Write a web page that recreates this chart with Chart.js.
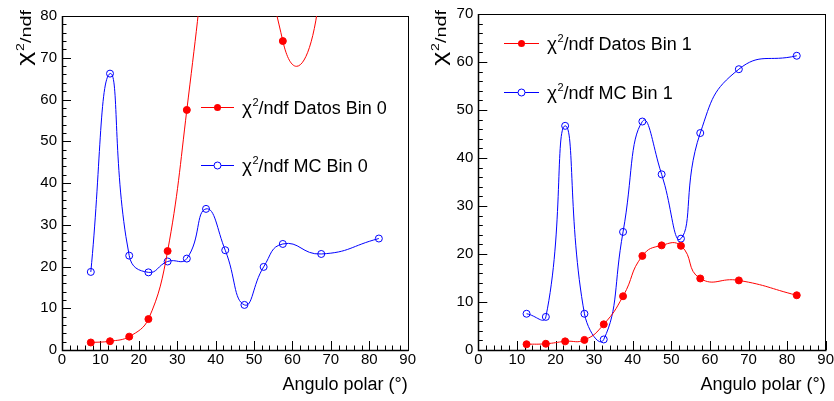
<!DOCTYPE html>
<html>
<head>
<meta charset="utf-8">
<script src="https://cdn.jsdelivr.net/npm/chart.js@4.4.0/dist/chart.umd.min.js"></script>
<style>
	html, body { margin: 0; padding: 0; background: #fff; overflow: hidden; width: 834px; height: 401px; }
	canvas { position: absolute; top: 0; }
</style>
</head>
<body>
<canvas id="chart__bin0" width="417" height="401" style="left:0"></canvas>
<canvas id="chart__bin1" width="420" height="401" style="left:417px"></canvas>
<script>
// Angles (bin centres, degrees) and chi2/ndf values
// (Datos Bin 0 from 37.5 to 52.5 and at 67.5, 82.5 runs off the top of the frame: estimated)
const anglesBin0 = [7.5, 12.5, 17.5, 22.5, 27.5, 32.5, 37.5, 42.5, 47.5, 52.5, 57.5, 67.5, 82.5];
const datosBin0 = [1.8, 2.1, 3.2, 7.4, 23.7, 57.5, 100, 170, 300, 150, 74, 90, 400];
const mcBin0 = [18.7, 66.2, 22.6, 18.6, 21.2, 21.9, 33.8, 23.9, 10.8, 19.9, 25.4, 23.0, 26.7];

const anglesBin1 = [12.5, 17.5, 22.5, 27.5, 32.5, 37.5, 42.5, 47.5, 52.5, 57.5, 67.5, 82.5];
const datosBin1 = [1.2, 1.3, 1.8, 2.1, 5.35, 11.2, 19.6, 21.8, 21.7, 14.9, 14.5, 11.4];
const mcBin1 = [7.55, 6.9, 46.7, 7.55, 2.2, 24.6, 47.6, 36.6, 23.2, 45.2, 58.5, 61.3];

const xTicks = [0, 10, 20, 30, 40, 50, 60, 70, 80, 90];

const FONT = "'Liberation Sans', Arial, Helvetica, sans-serif";
const RED = "#ff0000";
const BLUE = "#0000ff";

document.addEventListener("DOMContentLoaded", () => {
	// the Datos Bin 0 curve is drawn in two pieces that overlap off the top of
	// the frame, so the right-hand piece can be smoothed harder
	initChart("chart__bin0", {
		angles: anglesBin0, datos: datosBin0, mc: mcBin0, yMax: 80,
		datosPieces: [
			{ from: 0, to: 9, tension: 0.4 },
			{ from: 7, to: 13, tension: 1.1 },
		],
		top: 16, right: 8.7, yWidth: 62,
		titleTop: 10, titleX: 30.5,
		legend: { x1: 201, x2: 234, text: 242, yDatos: 107, yMc: 165, bin: "0" },
	});
	initChart("chart__bin1", {
		angles: anglesBin1, datos: datosBin1, mc: mcBin1, yMax: 70,
		datosPieces: [{ from: 0, to: 12, tension: 0.5 }],
		top: 10, right: 11.3, yWidth: 61.3,
		titleTop: 10, titleX: 28.5,
		legend: { x1: 87, x2: 122, text: 130, yDatos: 43, yMc: 92, bin: "1" },
	});
});

const toPoints = (xs, ys, from = 0, to = xs.length) =>
	xs.slice(from, to).map((x, i) => ({ x, y: ys[from + i] }));

// chi with a superscript 2, then the rest of the text
const drawChiText = (ctx, x, y, rest, sizes) => {
	ctx.textAlign = "left";
	ctx.textBaseline = "alphabetic";
	ctx.font = `${sizes.chi}px ${FONT}`;
	ctx.fillText("\u03C7", x, y);
	let cx = x + ctx.measureText("\u03C7").width + 0.5;
	ctx.font = `${sizes.sup}px ${FONT}`;
	ctx.fillText("2", cx, y - sizes.raise);
	cx += ctx.measureText("2").width;
	ctx.font = `${sizes.text}px ${FONT}`;
	ctx.fillText(rest, cx, y);
};

const measureChiText = (ctx, rest, sizes) => {
	ctx.font = `${sizes.chi}px ${FONT}`;
	let w = ctx.measureText("\u03C7").width + 0.5;
	ctx.font = `${sizes.sup}px ${FONT}`;
	w += ctx.measureText("2").width;
	ctx.font = `${sizes.text}px ${FONT}`;
	return w + ctx.measureText(rest).width;
};

// ROOT-like frame with ticks pointing inside
const rootAxesPlugin = {
	id: "rootAxes",
	beforeDatasetsDraw: (chart) => {
		const { ctx, chartArea, scales } = chart;
		const { left, right, top, bottom } = chartArea;
		ctx.save();
		ctx.strokeStyle = "#000";
		ctx.lineWidth = 1;
		ctx.beginPath();
		for (let v = scales.x.min; v <= scales.x.max; v += 2) {
			const px = Math.round(scales.x.getPixelForValue(v)) + 0.5;
			const len = v % 10 === 0 ? 9 : 4.5;
			ctx.moveTo(px, bottom);
			ctx.lineTo(px, bottom - len);
		}
		for (let v = scales.y.min; v <= scales.y.max; v += 2) {
			const py = Math.round(scales.y.getPixelForValue(v)) + 0.5;
			const len = v % 10 === 0 ? 9 : 4.5;
			ctx.moveTo(left, py);
			ctx.lineTo(left + len, py);
		}
		ctx.stroke();
		ctx.strokeRect(Math.round(left) + 0.5, Math.round(top) + 0.5, Math.round(right - left), Math.round(bottom - top));
		ctx.lineWidth = 1.5;
		ctx.beginPath();
		ctx.moveTo(Math.round(left) + 0.5, Math.round(top));
		ctx.lineTo(Math.round(left) + 0.5, Math.round(bottom) + 0.5);
		ctx.lineTo(Math.round(right) + 0.5, Math.round(bottom) + 0.5);
		ctx.stroke();
		ctx.restore();
	},
};

const legendSizes = { chi: 19, sup: 11, raise: 7.5, text: 18 };
const titleSizes = { chi: 21, sup: 11, raise: 6.5, text: 15.5 };
const titleStretch = 1.28;

// Legend and y title drawn at fixed spots like the original
const rootLegendPlugin = {
	id: "rootLegend",
	afterDraw: (chart, args, opts) => {
		const { ctx } = chart;
		const lg = opts.legend;
		ctx.save();
		const rows = [
			{ y: lg.yDatos, color: RED, filled: true, text: `/ndf Datos Bin ${lg.bin}` },
			{ y: lg.yMc, color: BLUE, filled: false, text: `/ndf MC Bin ${lg.bin}` },
		];
		rows.forEach((row) => {
			ctx.strokeStyle = row.color;
			ctx.fillStyle = row.color;
			ctx.lineWidth = 1;
			ctx.beginPath();
			ctx.moveTo(lg.x1, row.y + 0.5);
			ctx.lineTo(lg.x2, row.y + 0.5);
			ctx.stroke();
			const mx = (lg.x1 + lg.x2) / 2;
			ctx.beginPath();
			ctx.arc(mx, row.y + 0.5, 3.5, 0, Math.PI * 2);
			if (row.filled) {
				ctx.fill();
			} else {
				ctx.fillStyle = "#fff";
				ctx.fill();
				ctx.stroke();
			}
			ctx.fillStyle = "#000";
			drawChiText(ctx, lg.text, row.y + 6.5, row.text, legendSizes);
		});
		// y axis title, rotated, ending at the top
		ctx.translate(opts.titleX, opts.titleTop);
		ctx.rotate(-Math.PI / 2);
		ctx.scale(titleStretch, 1);
		const w = measureChiText(ctx, "/ndf", titleSizes);
		ctx.fillStyle = "#000";
		drawChiText(ctx, -w, 0, "/ndf", titleSizes);
		ctx.restore();
	},
};

const initChart = (id, cfg) => {
	const ctx = document.getElementById(id);
	if (!ctx) return;
	const tickFont = { family: FONT, size: 15 };
	const datosSets = cfg.datosPieces.map((piece) => ({
		label: "Datos",
		data: toPoints(cfg.angles, cfg.datos, piece.from, piece.to),
		borderColor: RED,
		backgroundColor: RED,
		borderWidth: 1,
		pointRadius: 3.5,
		pointBorderWidth: 1,
		tension: piece.tension,
	}));
	// eslint-disable-next-line no-undef
	return new Chart(ctx, {
		type: "line",
		data: {
			datasets: [
				...datosSets,
				{
					label: "MC",
					data: toPoints(cfg.angles, cfg.mc),
					borderColor: BLUE,
					backgroundColor: "rgba(0,0,0,0)",
					borderWidth: 1,
					pointRadius: 3.5,
					pointBorderWidth: 1,
					tension: 0.5,
				},
			],
		},
		options: {
			responsive: false,
			animation: false,
			events: [],
			layout: { padding: { left: 0, top: cfg.top, right: cfg.right, bottom: 0 } },
			plugins: {
				legend: { display: false },
				tooltip: { enabled: false },
				rootLegend: { legend: cfg.legend, titleX: cfg.titleX, titleTop: cfg.titleTop },
			},
			scales: {
				x: {
					type: "linear",
					min: 0,
					max: 90,
					afterBuildTicks: (scale) => {
						scale.ticks = xTicks.map((value) => ({ value }));
					},
					afterFit: (scale) => {
						scale.height = 51;
					},
					ticks: { font: tickFont, color: "#000", padding: 1, maxRotation: 0, autoSkip: false },
					grid: { display: false, drawTicks: false },
					border: { display: false },
					title: {
						display: true,
						text: "Angulo polar (\u00B0)",
						align: "end",
						color: "#000",
						font: { family: FONT, size: 18 },
						padding: { top: 0, bottom: 5 },
					},
				},
				y: {
					type: "linear",
					min: 0,
					max: cfg.yMax,
					afterFit: (scale) => {
						scale.width = cfg.yWidth;
					},
					ticks: { stepSize: 10, font: tickFont, color: "#000", padding: 5 },
					grid: { display: false, drawTicks: false },
					border: { display: false },
				},
			},
		},
		plugins: [rootAxesPlugin, rootLegendPlugin],
	});
};
</script>
</body>
</html>
